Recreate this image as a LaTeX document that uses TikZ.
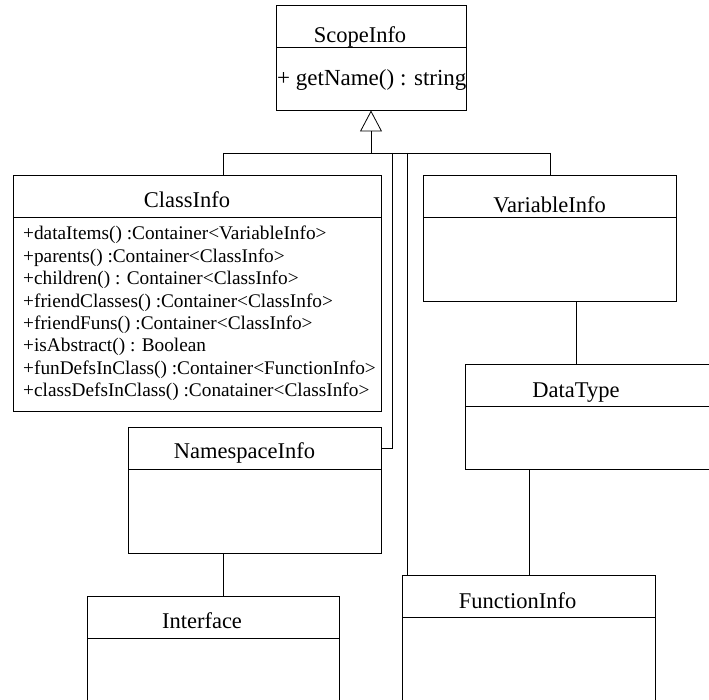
\documentclass[tikz,border=0pt]{standalone}
\usepackage{fontspec}
\setmainfont{Liberation Serif}
\usetikzlibrary{arrows.meta}
\tikzset{
  umlline/.style={line width=0.8pt},
  headbox/.style={draw, umlline, minimum height=42.5pt, inner sep=0pt, outer sep=0pt, anchor=north west},
  bodybox/.style={draw, umlline, inner sep=0pt, outer sep=0pt, anchor=north},
  titletext/.style={font=\fontsize{22.5}{27}\selectfont, inner sep=0pt, anchor=base},
  optext/.style={font=\fontsize{19.3}{22}\selectfont, inner sep=0pt, anchor=base west}
}
\begin{document}
\begin{tikzpicture}[x=1pt,y=-1pt]
	\useasboundingbox (0,0) rectangle (709,700);
	\clip (0,0) rectangle (709,700);
	% class boxes: name/left/top/width/body height/title/title shift
	\foreach \n/\x/\y/\w/\hb/\ttl/\dx/\dy in {scope/276/5/190/63/ScopeInfo/-11/5,
		class/13/175/368/194/ClassInfo/-10/10,
		variable/423/175/253/84/VariableInfo/0/5,
		namespace/128/427/253/84/NamespaceInfo/-10/11,
		datatype/465/364/253/63/DataType/-15.5/9,
		function/402/575/253/100/FunctionInfo/-11/9,
		interface/87/596/252/100/Interface/-11/10}
	{
		\node[headbox, minimum width=\w] (\n) at (\x,\y) {};
		\node[bodybox, minimum width=\w, minimum height=\hb] (\n-body) at (\n.south) {};
		\node[titletext] (\n-title) at ([xshift=\dx, yshift=\dy]\n.south) {\ttl};
	}
	\node[titletext, anchor=base west, font=\fontsize{23}{27}\selectfont] (scope-op) at (277,86) {+ getName() : string};
	\foreach \m [count=\i] in {+dataItems() :Container<VariableInfo>,
		+parents() :Container<ClassInfo>,
		+children() : Container<ClassInfo>,
		+friendClasses() :Container<ClassInfo>,
		+friendFuns() :Container<ClassInfo>,
		+isAbstract() : Boolean,
		+funDefsInClass() :Container<FunctionInfo>,
		+classDefsInClass() :Conatainer<ClassInfo>}
	\node[optext] (op\i) at (23,{217.6+22.4*\i}) {\m};
	
	% generalisation tree
	\path
	(371,153) coordinate (fork)
	(223,153) coordinate (fL)
	(550,153) coordinate (fR)
	(392,153) coordinate (fN)
	(407,153) coordinate (fF)
	(576,0) coordinate (vd)
	(529,0) coordinate (df);
	\draw[umlline, -{Triangle[open, length=21pt, width=22pt]}] (fork) -- (scope-body.south);
	\draw[umlline] (fL) -- (fR);
	\draw[umlline] (fL) -- (fL |- class.north);
	\draw[umlline] (fR) -- (fR |- variable.north);
	\draw[umlline] (fN) |- (namespace.east);
	\draw[umlline] (fF) -- (fF |- function.north);
	
	% associations
	\draw[umlline] (vd |- variable-body.south) -- (vd |- datatype.north);
	\draw[umlline] (df |- datatype-body.south) -- (df |- function.north);
	\draw[umlline] (fL |- namespace-body.south) -- (fL |- interface.north);
\end{tikzpicture}
\end{document}
